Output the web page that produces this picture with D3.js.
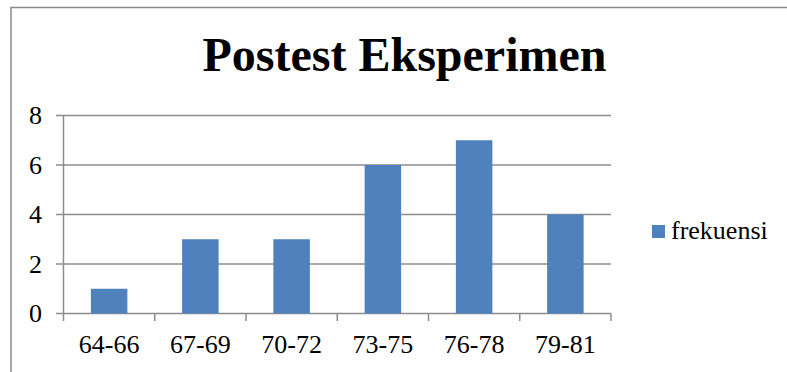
<!DOCTYPE html>
<html>
<head>
<meta charset="utf-8">
<script src="https://cdn.jsdelivr.net/npm/d3@7/dist/d3.min.js"></script>
<style>
  html, body { margin: 0; padding: 0; background: #fff; }
  svg { display: block; }
</style>
</head>
<body>
<svg id="chart" width="787" height="372"></svg>
<script>
// Frequency distribution of post-test scores (experiment group)
const categories = ["64-66", "67-69", "70-72", "73-75", "76-78", "79-81"];
const frekuensi = [1, 3, 3, 6, 7, 4];
const yTicks = [0, 2, 4, 6, 8];
const seriesName = "frekuensi";
const titleText = "Postest Eksperimen";

const FONT = '"Liberation Serif", "Times New Roman", serif';
const svg = d3.select("#chart");
const W = 787, H = 372;
const plot = { left: 63.5, right: 611, top: 115.5, bottom: 313.5 };

// outer chart frame
svg.append("rect")
  .attr("x", 11).attr("y", 7.5)
  .attr("width", W + 20).attr("height", H + 20)
  .attr("fill", "none").attr("stroke", "#8a8a8a").attr("stroke-width", 1.5);

const x = d3.scaleBand().domain(categories)
  .range([plot.left, plot.right]).paddingInner(0.6).paddingOuter(0.3);
const xBand = d3.scaleBand().domain(categories).range([plot.left, plot.right]);
const y = d3.scaleLinear().domain([0, 8]).range([plot.bottom, plot.top]);

// horizontal gridlines with left tick stubs
svg.append("g").selectAll("line").data(yTicks).join("line")
  .attr("x1", plot.left - 7.5).attr("x2", plot.right)
  .attr("y1", d => y(d)).attr("y2", d => y(d))
  .attr("stroke", "#8c8c8c").attr("stroke-width", 1.5);

// vertical axis line
svg.append("line")
  .attr("x1", plot.left).attr("x2", plot.left)
  .attr("y1", plot.top).attr("y2", plot.bottom)
  .attr("stroke", "#8c8c8c").attr("stroke-width", 1.5);

// y labels
svg.append("g").selectAll("text").data(yTicks).join("text")
  .attr("x", 42).attr("y", d => y(d) + 8.5)
  .attr("text-anchor", "end")
  .style("font-family", FONT).style("font-size", "26px")
  .text(d => d);

// bars
svg.append("g").selectAll("rect").data(categories).join("rect")
  .attr("x", d => x(d))
  .attr("width", x.bandwidth())
  .attr("y", (d, i) => y(frekuensi[i]))
  .attr("height", (d, i) => plot.bottom - y(frekuensi[i]))
  .attr("fill", "#4f81bd");

// category tick marks below the axis
const catEdges = categories.map(c => xBand(c)).concat([plot.right]);
svg.append("g").selectAll("line").data(catEdges).join("line")
  .attr("x1", d => d).attr("x2", d => d)
  .attr("y1", plot.bottom).attr("y2", plot.bottom + 7.5)
  .attr("stroke", "#8c8c8c").attr("stroke-width", 1.5);

// category labels
svg.append("g").selectAll("text").data(categories).join("text")
  .attr("x", d => xBand(d) + xBand.bandwidth() / 2)
  .attr("y", 353)
  .attr("text-anchor", "middle")
  .style("font-family", FONT).style("font-size", "26px")
  .text(d => d);

// title
svg.append("text")
  .attr("x", 404.5).attr("y", 71)
  .attr("text-anchor", "middle")
  .style("font-family", FONT).style("font-size", "48px").style("font-weight", "bold")
  .text(titleText);

// legend
const lg = svg.append("g");
lg.append("rect").attr("x", 652).attr("y", 225)
  .attr("width", 13).attr("height", 13).attr("fill", "#4f81bd");
lg.append("text").attr("x", 671).attr("y", 238.5)
  .style("font-family", FONT).style("font-size", "26px").text(seriesName);
</script>
</body>
</html>
